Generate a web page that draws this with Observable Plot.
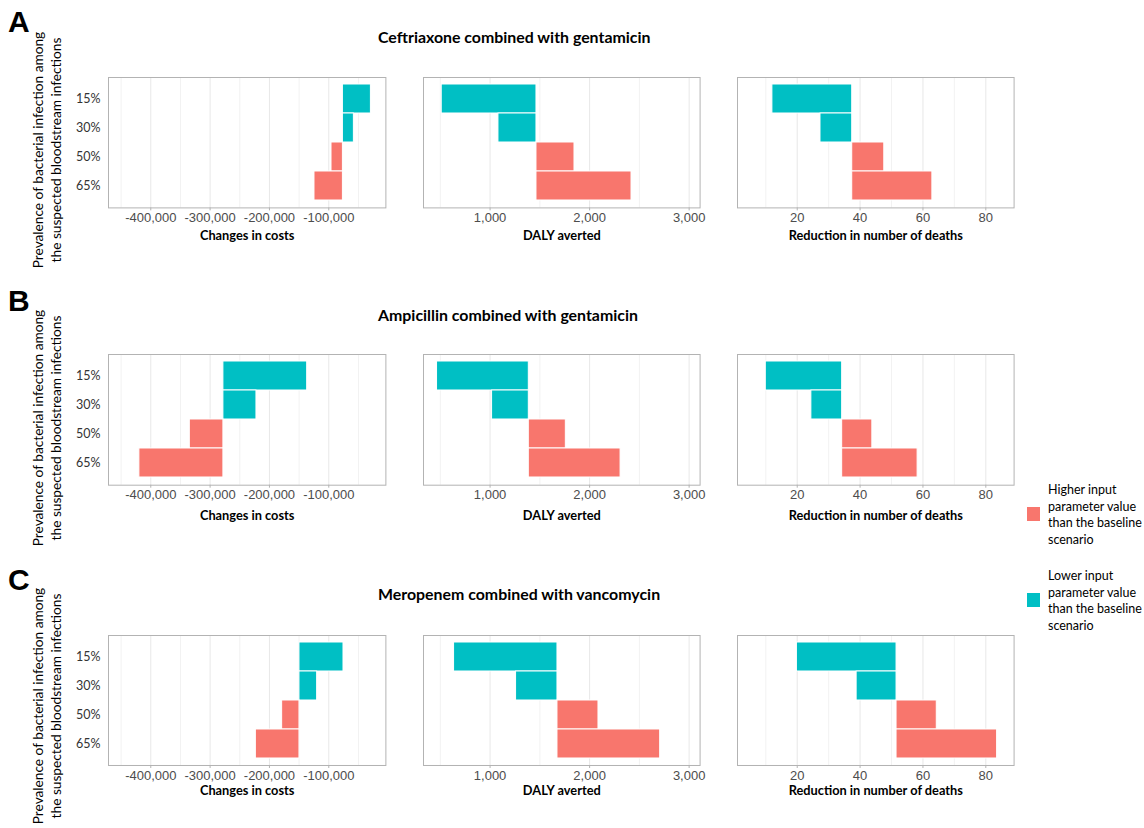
<!DOCTYPE html>
<html>
<head>
<meta charset="utf-8">
<script src="https://cdn.jsdelivr.net/npm/d3@7"></script>
<script src="https://cdn.jsdelivr.net/npm/@observablehq/plot@0.6"></script>
<style>
  html, body { margin: 0; padding: 0; background: #fff; overflow: hidden; }
  #root { position: relative; width: 1144px; height: 828px; font-family: Lato, "Open Sans", sans-serif; color: #000; }
  .abs { position: absolute; white-space: nowrap; line-height: 1; }
</style>
</head>
<body>
<div id="root"></div>
<script>
// ---------------- data ----------------
const prevalence = ["15%", "30%", "50%", "65%"];
const direction = ["Lower", "Lower", "Higher", "Higher"];
const regimens = ["Ceftriaxone combined with gentamicin", "Ampicillin combined with gentamicin", "Meropenem combined with vancomycin"];
const panelLetters = ["A", "B", "C"];
const outcomes = ["Changes in costs", "DALY averted", "Reduction in number of deaths"];
const yLabelLines = ["Prevalence of bacterial infection among", "the suspected bloodstream infections"];
const legendKeys = ["Higher", "Lower"];
const legendLines = [
  ["Higher input", "parameter value", "than the baseline", "scenario"],
  ["Lower input", "parameter value", "than the baseline", "scenario"]
];
const legendColors = ["#F8766D", "#00BFC4"];

// baseline value per regimen (A, B, C)
const costBase = [-76200, -277600, -149400];
const dalyBase = [1466, 1389, 1677];
const deathBase = [37.5, 34.3, 51.6];

// value at each prevalence (15%, 30%, 50%, 65%)
const costEndA = [-29000, -57700, -95400, -124100];
const costEndB = [-136400, -221900, -334200, -419200];
const costEndC = [-75200, -119600, -178600, -222900];
const dalyEndA = [514, 1084, 1848, 2421];
const dalyEndB = [467, 1020, 1761, 2311];
const dalyEndC = [638, 1261, 2089, 2709];
const deathEndA = [12.1, 27.4, 47.7, 63.0];
const deathEndB = [10.0, 24.5, 43.9, 58.3];
const deathEndC = [19.9, 38.9, 64.4, 83.6];

// axis domains and ticks
const costDomain = [-471250, -3750];
const dalyDomain = [331, 3110];
const deathDomain = [1, 89];
const costTicks = [-400000, -300000, -200000, -100000];
const costMinor = [-450000, -350000, -250000, -150000, -50000];
const dalyTicks = [1000, 2000, 3000];
const dalyMinor = [500, 1500, 2500];
const deathTicks = [20, 40, 60, 80];
const deathMinor = [10, 30, 50, 70];

// ---------------- layout ----------------
const bases = [costBase, dalyBase, deathBase];
const ends = [[costEndA, costEndB, costEndC], [dalyEndA, dalyEndB, dalyEndC], [deathEndA, deathEndB, deathEndC]];
const domains = [costDomain, dalyDomain, deathDomain];
const majors = [costTicks, dalyTicks, deathTicks];
const minors = [costMinor, dalyMinor, deathMinor];

const colX = [[108.3, 385.7], [422.7, 699.3], [736.7, 1013.3]];
const rowY = [[77.3, 207.7], [354.3, 485], [635, 765]];
const titleOffset = [27.5, 30.5, 25];
const rowTitleY = [37, 315, 594];
const letterY = [21.5, 301, 580];
const yLabelY = [150, 428, 706];

const root = document.getElementById("root");
const fmt = d => d.toLocaleString("en-US");

function addDiv(html, style) {
  const el = document.createElement("div");
  el.className = "abs";
  el.innerHTML = html;
  Object.assign(el.style, style);
  root.appendChild(el);
  return el;
}

for (let r = 0; r < 3; r++) {
  for (let c = 0; c < 3; c++) {
    const ml = c === 0 ? 45 : 2, mr = 2, mt = 2, mb = 42;
    const [fx0, fx1] = colX[c];
    const [fy0, fy1] = rowY[r];
    const data = prevalence.map((p, i) => ({p, x1: bases[c][r], x2: ends[c][r][i], dir: direction[i]}));
    const plot = Plot.plot({
      width: fx1 - fx0 + ml + mr,
      height: fy1 - fy0 + mt + mb,
      marginLeft: ml, marginRight: mr, marginTop: mt, marginBottom: mb,
      style: {background: "transparent", fontFamily: "Lato, 'Open Sans', sans-serif", overflow: "visible"},
      x: {domain: domains[c], axis: null, label: null},
      y: {domain: prevalence, padding: 0, insetTop: 5.7, insetBottom: 5.7, axis: null, label: null},
      color: {domain: legendKeys, range: legendColors},
      marks: [
        Plot.ruleX(minors[c], {stroke: "#f2f2f2", strokeWidth: 1}),
        Plot.ruleX(majors[c], {stroke: "#e8e8e8", strokeWidth: 1}),
        Plot.barX(data, {x1: "x1", x2: "x2", y: "p", fill: "dir", stroke: "white", strokeWidth: 1}),
        Plot.frame({stroke: "#b3b3b3", strokeWidth: 1}),
        Plot.axisX({ticks: majors[c], tickFormat: fmt, tickSize: 3, tickPadding: 2, stroke: "#b3b3b3", color: "#4d4d4d",
          fontSize: 13, fontFamily: "'Liberation Sans', Arial, sans-serif", label: null}),
        c === 0 ? Plot.axisY({tickSize: 0, tickPadding: 8, fontSize: 12.5, color: "#333333", label: null}) : null,
        Plot.text([outcomes[c]], {frameAnchor: "bottom", dy: titleOffset[r], text: d => d, fontWeight: "bold", fontSize: 12.8, fill: "black", lineAnchor: "middle"})
      ]
    });
    plot.style.position = "absolute";
    plot.style.left = (fx0 - ml) + "px";
    plot.style.top = (fy0 - mt) + "px";
    root.appendChild(plot);
  }
  // row title
  addDiv(regimens[r], {left: "378px", top: rowTitleY[r] + "px", transform: "translateY(-50%)", fontSize: "15.9px", fontWeight: "bold"});
  // panel letter
  addDiv(panelLetters[r], {left: "8px", top: letterY[r] + "px", transform: "translateY(-50%)", fontSize: "30px", fontWeight: "bold",
    fontFamily: "'Liberation Sans', Arial, sans-serif"});
  // y label
  addDiv(yLabelLines.join("<br>"), {left: "47px", top: yLabelY[r] + "px", transform: "translate(-50%,-50%) rotate(-90deg)",
    fontSize: "13.7px", lineHeight: "18px", textAlign: "center"});
}

// legend
const legendCenters = [514, 600];
legendKeys.forEach((k, i) => {
  const cy = legendCenters[i];
  addDiv("", {left: "1027px", top: (cy - 7) + "px", width: "13px", height: "14px", background: legendColors[i]});
  addDiv(legendLines[i].join("<br>"), {left: "1048px", top: (cy + 1) + "px", transform: "translateY(-50%)", fontSize: "12.5px", lineHeight: "16.7px"});
});
</script>
</body>
</html>
